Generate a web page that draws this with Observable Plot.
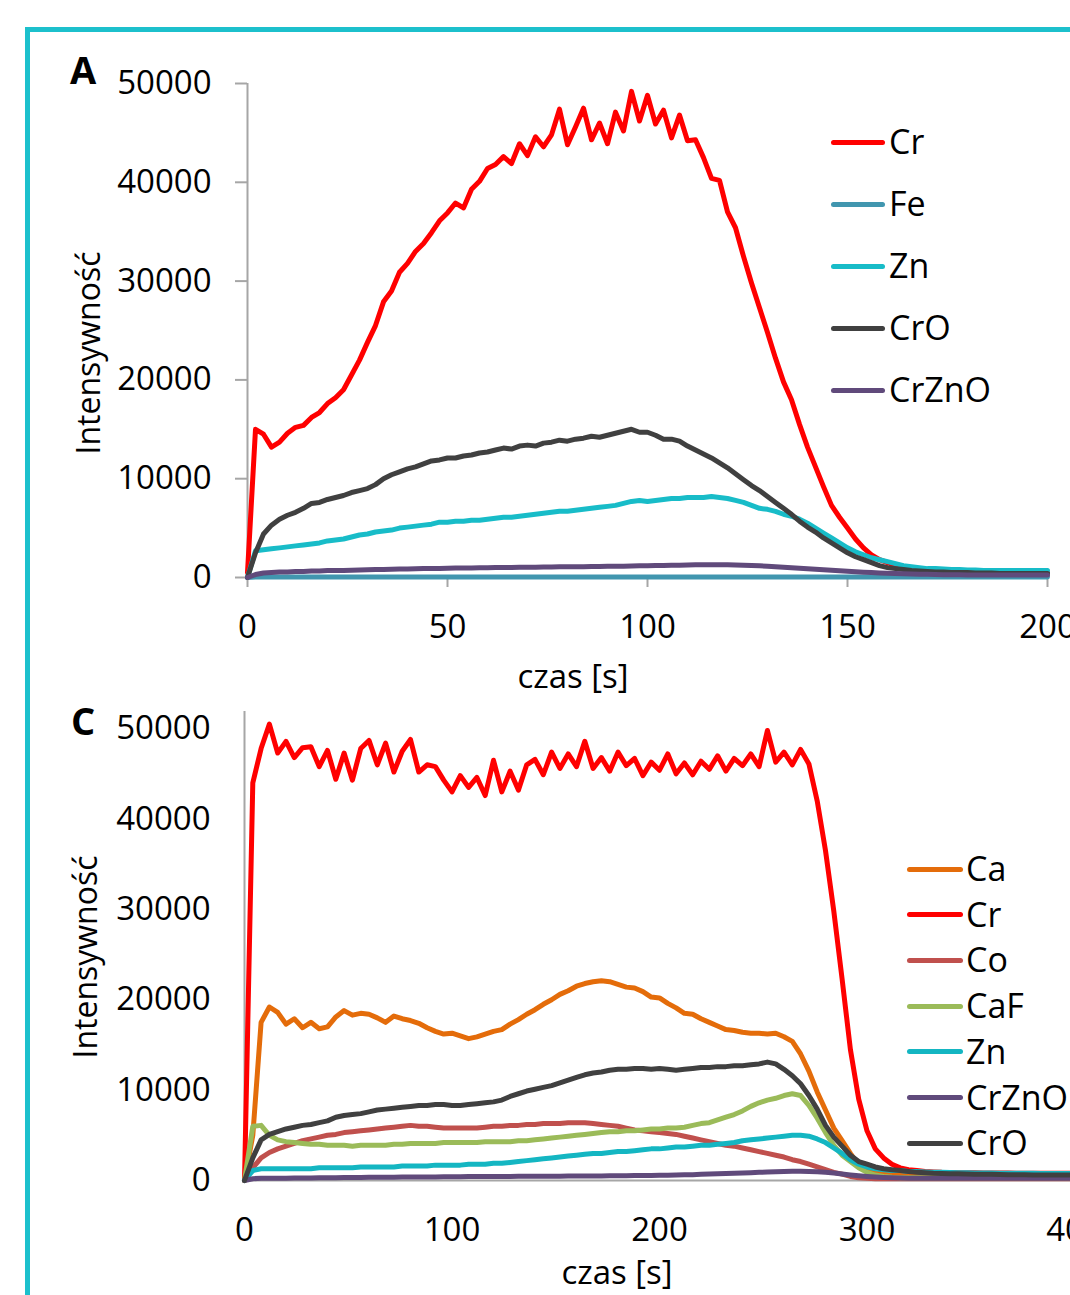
<!DOCTYPE html>
<html>
<head>
<meta charset="utf-8">
<script src="https://cdn.jsdelivr.net/npm/d3@7"></script>
<script src="https://cdn.jsdelivr.net/npm/@observablehq/plot@0.6"></script>
<style>
html,body{margin:0;padding:0;background:#fff;}
#wrap{position:relative;width:1070px;height:1295px;overflow:hidden;background:#fff;font-family:"Open Sans",sans-serif;color:#000;}
#frame{position:absolute;left:25px;top:27px;width:1200px;height:1400px;border-left:5px solid #1cc0cc;border-top:5px solid #1cc0cc;}
.panel{position:absolute;left:0;width:1200px;}
.panel svg{max-width:none !important;}
.txt{position:absolute;white-space:nowrap;line-height:1;}
.letter{font-weight:bold;font-size:38px;}
.ytitle{font-size:32px;transform:translate(-50%,-50%) rotate(-90deg);}
.xtitle{font-size:33px;transform:translateX(-50%);}
.leg-line{position:absolute;height:5px;border-radius:3px;}
.leg-lab{position:absolute;font-size:34px;line-height:1;white-space:nowrap;}
</style>
</head>
<body>
<div id="wrap">
  <div id="frame"></div>
  <div id="panelA" class="panel" style="top:0"></div>
  <div id="panelC" class="panel" style="top:690px"></div>
  <div id="overlay"></div>
</div>
<script>
// ---------- Panel A data (time step 2 s) ----------
const tA = d3.range(0, 201, 2);
const yTicks = [0, 10000, 20000, 30000, 40000, 50000];
const xTicksA = [0, 50, 100, 150, 200];
const xTicksC = [0, 100, 200, 300, 400];
const namesA = ["Cr", "Fe", "Zn", "CrO", "CrZnO"];
const colorsA = ["#ff0000", "#4196af", "#18bcc8", "#404040", "#604a7b"];

const crA = [
  500,15000,14500,13200,13700,14600,15200,15400,16200,16700,
  17600,18200,19000,20500,22000,23800,25500,27900,29000,30900,
  31800,33000,33800,34900,36100,36900,37900,37400,39300,40100,
  41400,41800,42600,41900,43900,42700,44600,43600,44800,47400,
  43800,45600,47500,44300,46000,43900,47100,45200,49200,46200,
  48800,45900,47300,44500,46800,44200,44300,42500,40400,40200,
  37000,35400,32500,29800,27300,24800,22200,19800,18000,15500,
  13200,11200,9200,7300,6100,5000,3900,3000,2300,1800,
  1500,1200,1000,900,800,700,700,650,650,600,
  600,600,550,550,550,550,500,500,500,500,
  500];
const feA = [
  0,60,50,50,60,50,50,60,50,50,
  60,50,50,60,50,50,60,50,50,60,
  50,50,60,50,50,60,50,50,60,50,
  50,60,50,50,60,50,50,60,50,50,
  60,50,50,60,50,50,60,50,50,60,
  50,50,60,50,50,60,50,50,60,50,
  50,60,50,50,60,50,50,60,50,50,
  60,50,50,60,50,50,60,50,50,60,
  50,50,60,50,50,60,50,50,60,50,
  50,60,50,50,60,50,50,60,50,50,
  60];
const znA = [
  0,2700,2800,2900,3000,3100,3200,3300,3400,3500,
  3700,3800,3900,4100,4300,4400,4600,4700,4800,5000,
  5100,5200,5300,5400,5600,5600,5700,5700,5800,5800,
  5900,6000,6100,6100,6200,6300,6400,6500,6600,6700,
  6700,6800,6900,7000,7100,7200,7300,7500,7700,7800,
  7700,7800,7900,8000,8000,8100,8100,8100,8200,8100,
  8000,7800,7600,7300,7000,6900,6700,6400,6200,5900,
  5500,5000,4500,4000,3500,3000,2600,2300,2000,1800,
  1600,1400,1200,1100,1000,900,900,850,800,800,
  750,750,700,700,700,700,700,700,700,700,
  700];
const croA = [
  0,2500,4400,5300,5900,6300,6600,7000,7500,7600,
  7900,8100,8300,8600,8800,9000,9400,10000,10400,10700,
  11000,11200,11500,11800,11900,12100,12100,12300,12400,12600,
  12700,12900,13100,13000,13300,13400,13300,13600,13700,13900,
  13800,14000,14100,14300,14200,14400,14600,14800,15000,14700,
  14700,14400,14000,14000,13800,13300,12900,12500,12100,11600,
  11100,10500,9900,9300,8800,8200,7600,7000,6400,5700,
  5100,4600,4000,3500,3000,2500,2100,1800,1500,1200,
  1000,900,800,700,650,600,550,550,500,500,
  500,450,450,450,400,400,400,400,400,400,
  400];
const crznoA = [
  0,300,450,500,550,550,600,600,650,650,
  700,700,720,740,760,780,800,820,830,850,
  860,880,900,910,920,940,950,960,970,980,
  990,1000,1010,1020,1030,1040,1050,1060,1070,1080,
  1090,1100,1100,1110,1120,1130,1140,1150,1170,1180,
  1200,1210,1220,1230,1250,1260,1280,1290,1300,1300,
  1290,1270,1250,1220,1180,1140,1090,1040,990,940,
  890,840,780,730,680,630,580,540,500,460,
  430,400,380,360,340,320,300,290,280,270,
  260,250,250,250,250,250,250,250,250,250,
  250];

// ---------- Panel C data (time step 4 s) ----------
const tC = d3.range(0, 401, 4);
const namesC = ["Ca", "Cr", "Co", "CaF", "Zn", "CrZnO", "CrO"];
const colorsC = ["#e46c0a", "#ff0000", "#c0504d", "#9bbb59", "#14b6c2", "#604a7b", "#404040"];

const caC = [
  0,5000,17500,19200,18600,17300,17900,16900,17500,16800,
  17000,18100,18800,18300,18500,18400,18000,17500,18200,17900,
  17700,17400,16900,16500,16200,16300,16000,15700,15900,16200,
  16500,16700,17300,17800,18400,18900,19500,20000,20600,21000,
  21500,21800,22000,22100,22000,21700,21400,21300,20900,20300,
  20200,19600,19100,18500,18400,17900,17500,17100,16700,16600,
  16400,16300,16300,16200,16300,15900,15400,14000,12100,9800,
  7800,5800,4400,3000,1700,1200,950,850,800,780,
  760,750,740,730,720,710,700,700,700,700,
  700,700,700,700,700,700,700,700,700,700,
  700];
const crC = [
  0,44000,47800,50500,47300,48600,46800,47900,48000,45800,
  47600,44400,47300,44300,47800,48700,46000,48400,45200,47500,
  48800,45200,46000,45800,44300,43000,44800,43500,44600,42600,
  46500,43000,45300,43200,46000,46600,44900,47400,45600,47200,
  45800,48600,45600,46800,45300,47400,45900,46700,44800,46300,
  45400,47200,45000,46200,44900,46400,45500,47000,45300,46700,
  45900,47200,45800,49800,46300,47400,46000,47700,46100,42000,
  36500,29800,22300,14500,9000,5500,3500,2500,1800,1400,
  1200,1100,1000,950,900,880,860,850,850,840,
  830,820,820,810,800,800,800,800,800,800,
  800];
const coC = [
  0,1400,2500,3100,3500,3800,4100,4400,4600,4800,
  5000,5100,5300,5400,5500,5600,5700,5800,5900,6000,
  6100,6000,6000,5900,5800,5800,5800,5800,5800,5900,
  6000,6000,6100,6100,6200,6200,6300,6300,6300,6400,
  6400,6400,6300,6200,6100,6000,5800,5600,5500,5400,
  5300,5200,5100,4900,4700,4500,4300,4100,3900,3800,
  3600,3400,3200,3000,2800,2600,2300,2100,1800,1500,
  1200,900,700,450,300,250,200,200,200,200,
  200,200,200,200,200,200,200,200,200,200,
  200,200,200,200,200,200,200,200,200,200,
  200];
const cafC = [
  0,6000,6100,5000,4500,4300,4200,4100,4000,4000,
  3900,3900,3900,3800,3900,3900,3900,3900,4000,4000,
  4100,4100,4100,4100,4200,4200,4200,4200,4200,4300,
  4300,4300,4300,4400,4400,4500,4600,4700,4800,4900,
  5000,5100,5200,5300,5400,5400,5500,5500,5600,5700,
  5700,5800,5800,5900,6100,6300,6400,6700,7000,7300,
  7700,8200,8600,8900,9100,9400,9600,9400,8300,6900,
  5300,3900,2800,2100,1400,900,600,450,350,300,
  300,300,300,300,300,300,300,300,300,300,
  300,300,300,300,300,300,300,300,300,300,
  300];
const znC = [
  0,1100,1300,1300,1300,1300,1300,1300,1300,1400,
  1400,1400,1400,1400,1500,1500,1500,1500,1500,1600,
  1600,1600,1600,1700,1700,1700,1700,1800,1800,1800,
  1900,1900,2000,2100,2200,2300,2400,2500,2600,2700,
  2800,2900,3000,3000,3100,3200,3200,3300,3400,3500,
  3500,3600,3700,3700,3800,3900,3900,4000,4100,4200,
  4400,4500,4600,4700,4800,4900,5000,5000,4900,4600,
  4200,3600,3000,2300,1800,1500,1300,1200,1100,1100,
  1000,1000,950,900,900,880,860,850,840,830,
  820,810,800,800,800,790,780,780,770,770,
  760];
const crznoC = [
  0,200,250,250,250,260,270,280,290,300,
  300,310,320,330,340,350,350,360,370,380,
  390,390,400,400,410,420,420,430,430,440,
  440,450,450,460,460,470,470,480,480,490,
  490,500,500,510,520,520,530,540,550,560,
  570,590,610,630,650,680,710,740,770,800,
  840,870,900,930,960,990,1010,1020,1000,960,
  900,820,720,620,520,440,380,330,300,280,
  260,250,250,250,250,250,250,250,250,250,
  250,250,250,250,250,250,250,250,250,250,
  250];
const croC = [
  0,2500,4500,5100,5400,5700,5900,6100,6200,6400,
  6600,7000,7200,7300,7400,7600,7800,7900,8000,8100,
  8200,8300,8300,8400,8400,8300,8300,8400,8500,8600,
  8700,8900,9300,9600,9900,10100,10300,10500,10800,11100,
  11400,11700,11900,12000,12200,12300,12300,12400,12400,12300,
  12400,12300,12200,12300,12400,12500,12500,12600,12600,12700,
  12700,12800,12900,13100,12900,12300,11600,10700,9400,7900,
  6100,4800,3800,2800,2100,1800,1500,1300,1200,1100,
  1000,900,850,800,780,760,740,720,700,700,
  680,660,650,640,630,620,610,600,600,600,
  600];

// ---------- build ----------
function zip(ts, vs, name) {
  if (ts.length !== vs.length) throw new Error(name + " has " + vs.length + " values, expected " + ts.length);
  return ts.map((t, i) => ({t, v: vs[i]}));
}
const seriesA = [crA, feA, znA, croA, crznoA].map((vs, i) => ({name: namesA[i], color: colorsA[i], data: zip(tA, vs, namesA[i])}));
const seriesC = [caC, crC, coC, cafC, znC, crznoC, croC].map((vs, i) => ({name: namesC[i], color: colorsC[i], data: zip(tC, vs, namesC[i])}));

const gray = "#a6a6a6";
const fmt = d3.format("d");
const baseStyle = {fontFamily: "'Open Sans', sans-serif", fontSize: "33px", background: "transparent", color: "#000", overflow: "visible", maxWidth: "none"};
const lineOpts = {x: "t", y: "v", strokeWidth: 5, strokeLinejoin: "round", strokeLinecap: "round"};

const plotA = Plot.plot({
  width: 1100, height: 700,
  marginLeft: 247, marginRight: 53, marginTop: 83, marginBottom: 123,
  style: baseStyle,
  x: {domain: [0, 200]},
  y: {domain: [0, 50000]},
  marks: [
    Plot.axisY({ticks: yTicks, tickFormat: fmt, tickSize: 12, tickPadding: 24, stroke: gray, strokeWidth: 2, fill: "#000", fontSize: 33, label: null}),
    Plot.axisX({ticks: xTicksA, tickFormat: fmt, tickSize: 10, tickPadding: 27, stroke: gray, strokeWidth: 2, fill: "#000", fontSize: 33, label: null}),
    Plot.ruleX([0], {stroke: gray, strokeWidth: 2}),
    Plot.ruleY([0], {stroke: gray, strokeWidth: 2}),
    ...seriesA.map(s => Plot.line(s.data, {...lineOpts, stroke: s.color}))
  ]
});
plotA.style.maxWidth = "none";
document.getElementById("panelA").appendChild(plotA);

const plotC = Plot.plot({
  width: 1130, height: 605,
  marginLeft: 244, marginRight: 56, marginTop: 21, marginBottom: 115,
  style: baseStyle,
  x: {domain: [0, 400]},
  y: {domain: [0, 51900]},
  marks: [
    Plot.axisY({ticks: yTicks, tickFormat: fmt, tickSize: 0, tickPadding: 34, fill: "#000", fontSize: 33, label: null}),
    Plot.axisX({ticks: xTicksC, tickFormat: fmt, tickSize: 0, tickPadding: 37, fill: "#000", fontSize: 33, label: null}),
    Plot.ruleX([0], {stroke: gray, strokeWidth: 2}),
    Plot.ruleY([0], {stroke: gray, strokeWidth: 2}),
    ...seriesC.map(s => Plot.line(s.data, {...lineOpts, stroke: s.color}))
  ]
});
plotC.style.maxWidth = "none";
document.getElementById("panelC").appendChild(plotC);

// ---------- text & legends ----------
const overlay = document.getElementById("overlay");
function addText(cls, text, left, top) {
  const d = document.createElement("div");
  d.className = "txt " + cls;
  d.textContent = text;
  d.style.left = left + "px";
  d.style.top = top + "px";
  overlay.appendChild(d);
}
addText("letter", "A", 70, 50);
addText("letter", "C", 71, 701);
addText("ytitle", "Intensywność", 88, 353);
addText("ytitle", "Intensywność", 85, 957);
addText("xtitle", "czas [s]", 573, 659);
addText("xtitle", "czas [s]", 617, 1255);

function legend(series, x0, x1, xLab, y0, dy) {
  series.forEach((s, i) => {
    const y = y0 + i * dy;
    const ln = document.createElement("div");
    ln.className = "leg-line";
    ln.style.left = x0 + "px";
    ln.style.width = (x1 - x0) + "px";
    ln.style.top = (y - 2.5) + "px";
    ln.style.background = s.color;
    overlay.appendChild(ln);
    const lb = document.createElement("div");
    lb.className = "leg-lab";
    lb.textContent = s.name;
    lb.style.left = xLab + "px";
    lb.style.top = (y - 18) + "px";
    overlay.appendChild(lb);
  });
}
legend(seriesA, 831, 885, 889, 142, 62);
legend(seriesC, 907, 963, 966, 869, 45.7);
</script>
</body>
</html>
